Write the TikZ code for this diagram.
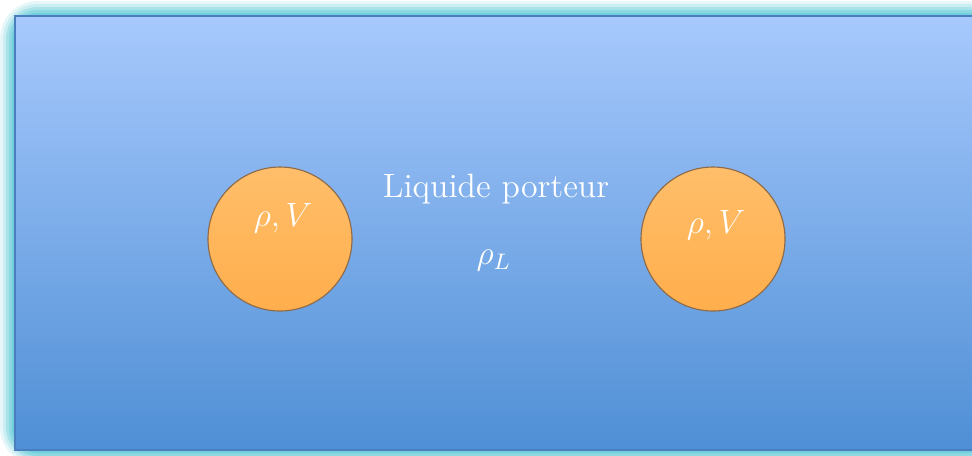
\documentclass[tikz,border=0pt]{standalone}
\usepackage{xcolor}
\usepackage{tikz}
\usetikzlibrary{shadings}
\definecolor{liqtop}{HTML}{A7C9FD}
\definecolor{liqbot}{HTML}{4F8FD5}
\definecolor{liqedge}{HTML}{4A7EBF}
\definecolor{glowcol}{HTML}{5CC8D6}
\definecolor{balltop}{HTML}{FFBE6A}
\definecolor{ballbot}{HTML}{FFAE4C}
\definecolor{balledge}{HTML}{8C6A4A}
\tikzset{
  ball/.style={circle,minimum size=144*0.0125cm,inner sep=0pt,draw=balledge,line width=0.4pt,
    top color=balltop,bottom color=ballbot},
  label text/.style={text=white,font=\large}
}

\begin{document}
\begin{tikzpicture}[x=0.0125cm,y=-0.0125cm]
  \useasboundingbox (0,0) rectangle (972,455);
  % glow round the tank
  \foreach \w/\o in {30/0.15,24/0.2,18/0.3,12/0.4,6/0.55}{
    \draw[glowcol,opacity=\o,line width=\w*0.0125cm,rounded corners=8pt] (15,16) rectangle (990,450);
  }
  % carrier liquid
  \shade[top color=liqtop,bottom color=liqbot] (15,16) rectangle (990,450);
  \draw[liqedge,line width=0.9pt] (15,16) rectangle (990,450);
  % particles
  \node[ball] (pleft) at (280,239) {};
  \node[ball] (pright) at (713,239) {};
  \node[label text] (vleft) at (283,218) {$\rho, V$};
  \node[label text] (vright) at (716,225) {$\rho, V$};
  \node[label text] (liq) at (496,189) {Liquide porteur};
  \node[label text] (rhoL) at (494,260) {$\rho_L$};
\end{tikzpicture}
\end{document}
